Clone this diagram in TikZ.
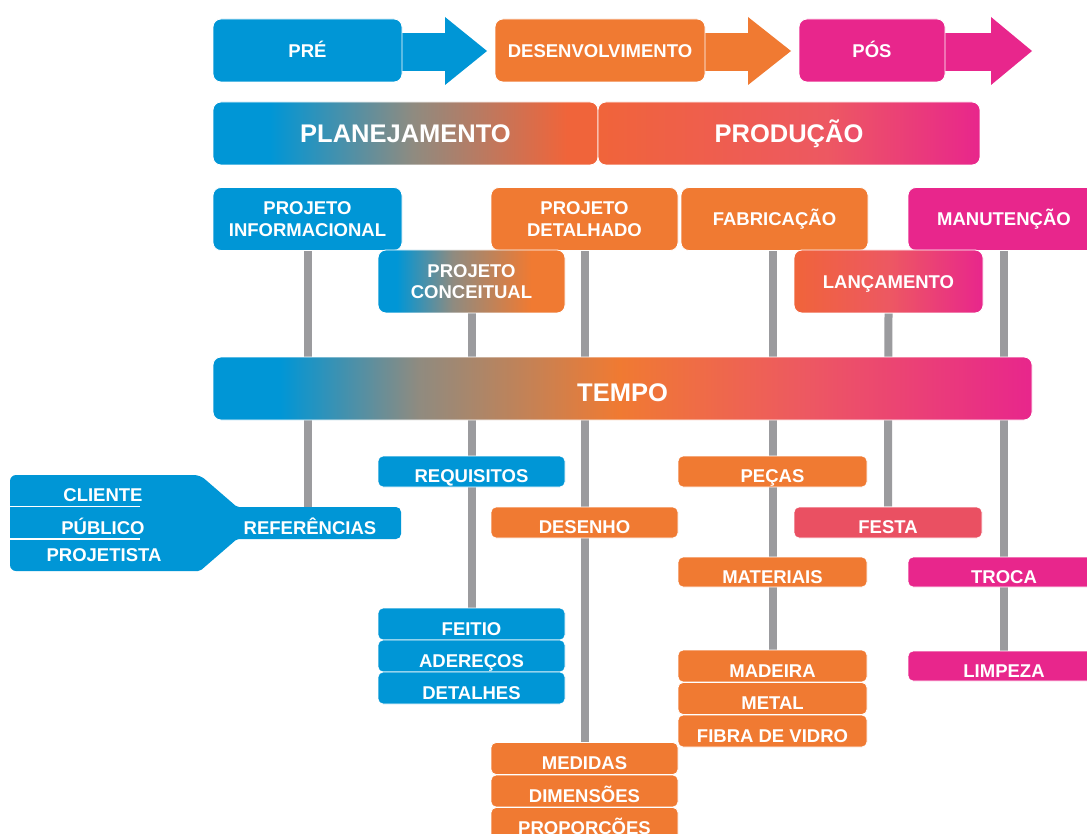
\documentclass[tikz,border=0pt]{standalone}
\usepackage{fontspec}
\setmainfont{Liberation Sans}
\usetikzlibrary{backgrounds}
\definecolor{cblue}{RGB}{0,150,214}
\definecolor{corange}{RGB}{240,122,50}
\definecolor{cpink}{RGB}{232,38,140}
\definecolor{cgrey}{RGB}{143,139,128}
\definecolor{cred}{RGB}{240,100,58}
\definecolor{ccoral}{RGB}{237,88,98}
\definecolor{cfesta}{RGB}{234,80,98}
\definecolor{cline}{RGB}{155,155,158}
\pgfdeclarehorizontalshading{tempoShade}{100bp}{color(0bp)=(cblue); color(29.1bp)=(cblue); color(37.5bp)=(cgrey); color(49.8bp)=(corange); color(61.3bp)=(ccoral); color(75bp)=(cpink); color(100bp)=(cpink)}
\pgfdeclarehorizontalshading{planShade}{100bp}{color(0bp)=(cblue); color(32.4bp)=(cblue); color(51bp)=(cgrey); color(71bp)=(cred); color(100bp)=(cred)}
\pgfdeclarehorizontalshading{prodShade}{100bp}{color(0bp)=(cred); color(25bp)=(cred); color(55bp)=(ccoral); color(75bp)=(cpink); color(100bp)=(cpink)}
\pgfdeclarehorizontalshading{concShade}{100bp}{color(0bp)=(cblue); color(30bp)=(cblue); color(45bp)=(cgrey); color(66bp)=(corange); color(100bp)=(corange)}
\pgfdeclarehorizontalshading{lancShade}{100bp}{color(0bp)=(cred); color(25bp)=(cred); color(50bp)=(ccoral); color(75bp)=(cpink); color(100bp)=(cpink)}
\tikzset{
  basebox/.style={draw=white, line width=0.8pt, inner sep=0pt, text=white},
  topbox/.style={basebox, rounded corners=8pt, minimum height=63,
    font=\bfseries\fontsize{18.5}{21.5}\selectfont, text height=13.3, text depth=0},
  twobox/.style={basebox, rounded corners=8pt, minimum height=63, align=center,
    font=\bfseries\fontsize{18.5}{21.5}\selectfont},
  bigbox/.style={basebox, rounded corners=8pt, minimum height=63,
    font=\bfseries\fontsize{25.5}{30}\selectfont, text height=18.3, text depth=0},
  smallbox/.style={basebox, rounded corners=5pt, minimum height=31,
    font=\bfseries\fontsize{18.5}{21.5}\selectfont, text height=22.3, text depth=0},
  label/.style={inner sep=0pt, text=white, font=\bfseries\fontsize{18.5}{21.5}\selectfont,
    text height=13.3, text depth=0},
  conn/.style={draw=cline, line width=8pt},
}
\begin{document}
\begin{tikzpicture}[x=1pt,y=1pt]
\clip (0,0) rectangle (1087,-834);
% top arrows
\fill[cblue] (398,-33) rectangle (446,-71);
\fill[cblue] (445,-17) -- (487,-51) -- (445,-85) -- cycle;
\fill[corange] (700,-33) rectangle (749,-71);
\fill[corange] (748,-17) -- (791,-51) -- (748,-85) -- cycle;
\fill[cpink] (940,-33) rectangle (992,-71);
\fill[cpink] (991,-17) -- (1032,-51) -- (991,-85) -- cycle;
\node[topbox, fill=cblue, minimum width=189] (pre) at (307.5,-50.5) {PRÉ};
\node[topbox, fill=corange, minimum width=210] (des) at (600,-50.5) {DESENVOLVIMENTO};
\node[topbox, fill=cpink, minimum width=146] (pos) at (872,-50.5) {PÓS};
% phases
\node[bigbox, shade, shading=planShade, minimum width=385] (plan) at (405.5,-133.5) {PLANEJAMENTO};
\node[bigbox, shade, shading=prodShade, minimum width=382] (prod) at (789,-133.5) {PRODUÇÃO};
% stages
\node[twobox, fill=cblue, minimum width=189] (pinf) at (307.5,-219) {PROJETO\\INFORMACIONAL};
\node[twobox, fill=corange, minimum width=187] (pdet) at (584.5,-219) {PROJETO\\DETALHADO};
\node[topbox, fill=corange, minimum width=187] (fab) at (774.5,-219) {FABRICAÇÃO};
\node[topbox, fill=cpink, minimum width=192] (man) at (1004,-219) {MANUTENÇÃO};
\node[twobox, shade, shading=concShade, minimum width=187] (pconc) at (471.5,-281.5) {PROJETO\\CONCEITUAL};
\node[topbox, shade, shading=lancShade, minimum width=189] (lanc) at (888.5,-281.5) {LANÇAMENTO};
% time bar
\node[bigbox, text height=26.3, shade, shading=tempoShade, minimum width=819] (tempo) at (622.5,-388.5) {TEMPO};
% funnel of references
\fill[cblue] [rounded corners=6pt] (10,-475) -- (200,-475) [rounded corners=2pt] -- (237,-507)
  [rounded corners=5pt] -- (401,-507) -- (401,-539) [rounded corners=2pt] -- (237,-539)
  -- (200,-571) [rounded corners=6pt] -- (10,-571) -- cycle;
\draw[white, line width=1.3pt] (10,-506.5) -- (140,-506.5) (10,-539) -- (140,-539);
\node[label] (cli) at (103,-495) {CLIENTE};
\node[label] (pub) at (103,-527.5) {PÚBLICO};
\node[label] (prj) at (104,-555) {PROJETISTA};
\node[label, minimum height=41] (ref) at (310,-527.5) {REFERÊNCIAS};
% lower boxes
\node[smallbox, fill=cblue, minimum width=187] (req) at (471.5,-471.5) {REQUISITOS};
\node[smallbox, fill=cblue, minimum width=187, minimum height=32] (feitio) at (471.5,-624) {FEITIO};
\node[smallbox, fill=cblue, minimum width=187, minimum height=32] (adere) at (471.5,-656) {ADEREÇOS};
\node[smallbox, fill=cblue, minimum width=187, minimum height=32] (detal) at (471.5,-688) {DETALHES};
\node[smallbox, fill=corange, minimum width=187] (desenho) at (584.5,-522.5) {DESENHO};
\node[smallbox, fill=corange, minimum width=187, minimum height=32] (medidas) at (584.5,-758.5) {MEDIDAS};
\node[smallbox, fill=corange, minimum width=187, minimum height=32] (dimen) at (584.5,-791) {DIMENSÕES};
\node[smallbox, fill=corange, minimum width=187, minimum height=32] (propor) at (584.5,-823.5) {PROPORÇÕES};
\node[smallbox, fill=corange, minimum width=189] (pecas) at (772.5,-471.5) {PEÇAS};
\node[smallbox, fill=corange, minimum width=189, minimum height=30] (mater) at (772.5,-572) {MATERIAIS};
\node[smallbox, fill=corange, minimum width=189, minimum height=32] (madeira) at (772.5,-666) {MADEIRA};
\node[smallbox, fill=corange, minimum width=189, minimum height=32] (metal) at (772.5,-698.5) {METAL};
\node[smallbox, fill=corange, minimum width=189, minimum height=32] (fibra) at (772.5,-731) {FIBRA DE VIDRO};
\node[smallbox, fill=cfesta, minimum width=188] (festa) at (888,-522.5) {FESTA};
\node[smallbox, fill=cpink, minimum width=192, minimum height=30] (troca) at (1004,-572) {TROCA};
\node[smallbox, fill=cpink, minimum width=192, minimum height=30] (limpeza) at (1004,-666) {LIMPEZA};
% connectors
\begin{scope}[on background layer]
\fill[white] (0,0) rectangle (1087,-834);
\draw[conn] (pinf.south) -- (pinf.south |- ref.north);
\draw[conn] (pconc.south) -- (feitio.north);
\draw[conn] (pdet.south) -- (medidas.north);
\draw[conn] (madeira.north |- fab.south) -- (madeira.north);
\draw[conn] (lanc.south) -- (festa.north);
\draw[conn] (limpeza.north |- man.south) -- (limpeza.north);
\end{scope}
\end{tikzpicture}
\end{document}
